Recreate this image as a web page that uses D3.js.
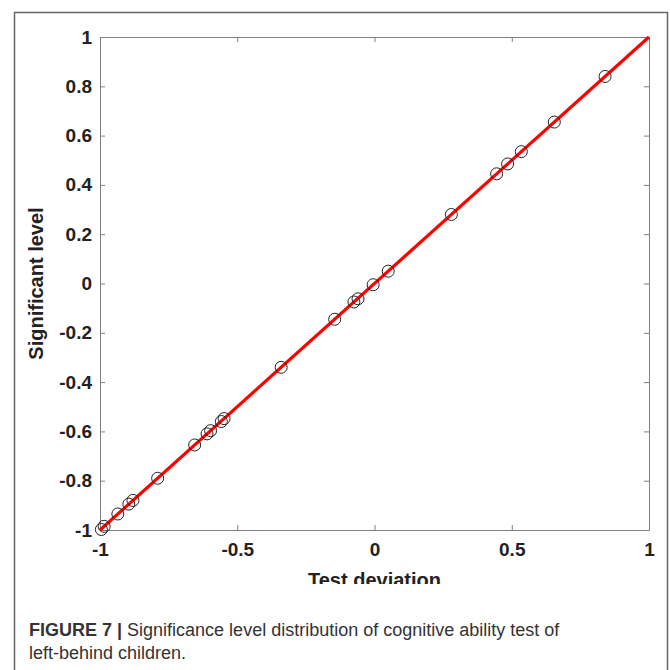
<!DOCTYPE html>
<html>
<head>
<meta charset="utf-8">
<script src="https://cdn.jsdelivr.net/npm/d3@7"></script>
<style>
body { margin: 0; background: #fff; }
.axis path, .axis line { stroke: #808080; stroke-width: 1; }
.axis text { font-family: "Liberation Sans", Arial, sans-serif; font-weight: bold; font-size: 19px; fill: #222; }
</style>
</head>
<body>
<div id="chart"></div>
<script>
var w = 670, h = 670;

// points (test deviation, significant level)
var testDev = [-0.995, -0.985, -0.935, -0.895, -0.88, -0.79, -0.655, -0.61, -0.597,
               -0.558, -0.548, -0.34, -0.145, -0.075, -0.06, -0.005, 0.05, 0.28,
               0.445, 0.485, 0.535, 0.655, 0.84];
var sigLevel = [-0.998, -0.985, -0.935, -0.895, -0.88, -0.79, -0.655, -0.61, -0.597,
                -0.56, -0.548, -0.34, -0.145, -0.075, -0.062, -0.005, 0.05, 0.28,
                0.445, 0.485, 0.535, 0.655, 0.84];
var fitLine = [[-1, -1], [1, 1]];
var xTicks = [-1, -0.5, 0, 0.5, 1];
var yTicks = [-1, -0.8, -0.6, -0.4, -0.2, 0, 0.2, 0.4, 0.6, 0.8, 1];

var m = {left: 100, top: 37, right: 649, bottom: 530};

var x = d3.scaleLinear().domain([-1, 1]).range([m.left, m.right]);
var y = d3.scaleLinear().domain([-1, 1]).range([m.bottom, m.top]);

var svg = d3.select("#chart").append("svg")
    .attr("width", w)
    .attr("height", h);

// outer figure frame
svg.append("rect")
    .attr("x", 14.5).attr("y", 12.5)
    .attr("width", 653).attr("height", 700)
    .style("fill", "none")
    .style("stroke", "#666")
    .style("stroke-width", 1.5);

// plain hyphen like the original, not a unicode minus
var fmt = function(d) { return String(d); };

svg.append("g").attr("class", "axis")
    .attr("transform", "translate(0," + m.bottom + ")")
    .call(d3.axisBottom(x).tickValues(xTicks).tickFormat(fmt).tickSizeInner(-5).tickSizeOuter(0).tickPadding(13));

svg.append("g").attr("class", "axis")
    .attr("transform", "translate(0," + m.top + ")")
    .call(d3.axisTop(x).tickValues(xTicks).tickFormat("").tickSizeInner(-5).tickSizeOuter(0));

svg.append("g").attr("class", "axis")
    .attr("transform", "translate(" + m.left + ",0)")
    .call(d3.axisLeft(y).tickValues(yTicks).tickFormat(fmt).tickSizeInner(-5).tickSizeOuter(0).tickPadding(8));

svg.append("g").attr("class", "axis")
    .attr("transform", "translate(" + m.right + ",0)")
    .call(d3.axisRight(y).tickValues(yTicks).tickFormat("").tickSizeInner(-5).tickSizeOuter(0));

// fitted line
svg.append("path")
    .datum(fitLine)
    .attr("d", d3.line().x(function(d) { return x(d[0]); }).y(function(d) { return y(d[1]); }))
    .style("fill", "none")
    .style("stroke", "#f00")
    .style("stroke-width", 3.2);

svg.append("g").selectAll("circle")
    .data(testDev)
  .enter().append("circle")
    .attr("cx", function(d) { return x(d); })
    .attr("cy", function(d, i) { return y(sigLevel[i]); })
    .attr("r", 6)
    .style("fill", "none")
    .style("stroke", "#222")
    .style("stroke-width", 1);

// axis titles (x title is cut off at the bottom in the original)
svg.append("clipPath").attr("id", "cut")
  .append("rect").attr("x", 0).attr("y", 0).attr("width", w).attr("height", 584);

svg.append("text")
    .attr("x", x(0)).attr("y", 587)
    .attr("clip-path", "url(#cut)")
    .attr("text-anchor", "middle")
    .style("font-family", "Liberation Sans, Arial, sans-serif")
    .style("font-weight", "bold")
    .style("font-size", "20px")
    .style("fill", "#222")
    .text("Test deviation");

svg.append("text")
    .attr("transform", "translate(43," + y(0) + ") rotate(-90)")
    .attr("text-anchor", "middle")
    .style("font-family", "Liberation Sans, Arial, sans-serif")
    .style("font-weight", "bold")
    .style("font-size", "20px")
    .style("fill", "#222")
    .text("Significant level");

// caption
var cap = svg.append("text")
    .attr("x", 29).attr("y", 636)
    .style("font-family", "Liberation Sans, Arial, sans-serif")
    .style("font-size", "18px")
    .style("fill", "#333");
cap.append("tspan").style("font-weight", "bold").text("FIGURE 7 | ");
cap.append("tspan").text("Significance level distribution of cognitive ability test of");

svg.append("text")
    .attr("x", 29).attr("y", 659)
    .style("font-family", "Liberation Sans, Arial, sans-serif")
    .style("font-size", "18px")
    .style("fill", "#333")
    .text("left-behind children.");
</script>
</body>
</html>
